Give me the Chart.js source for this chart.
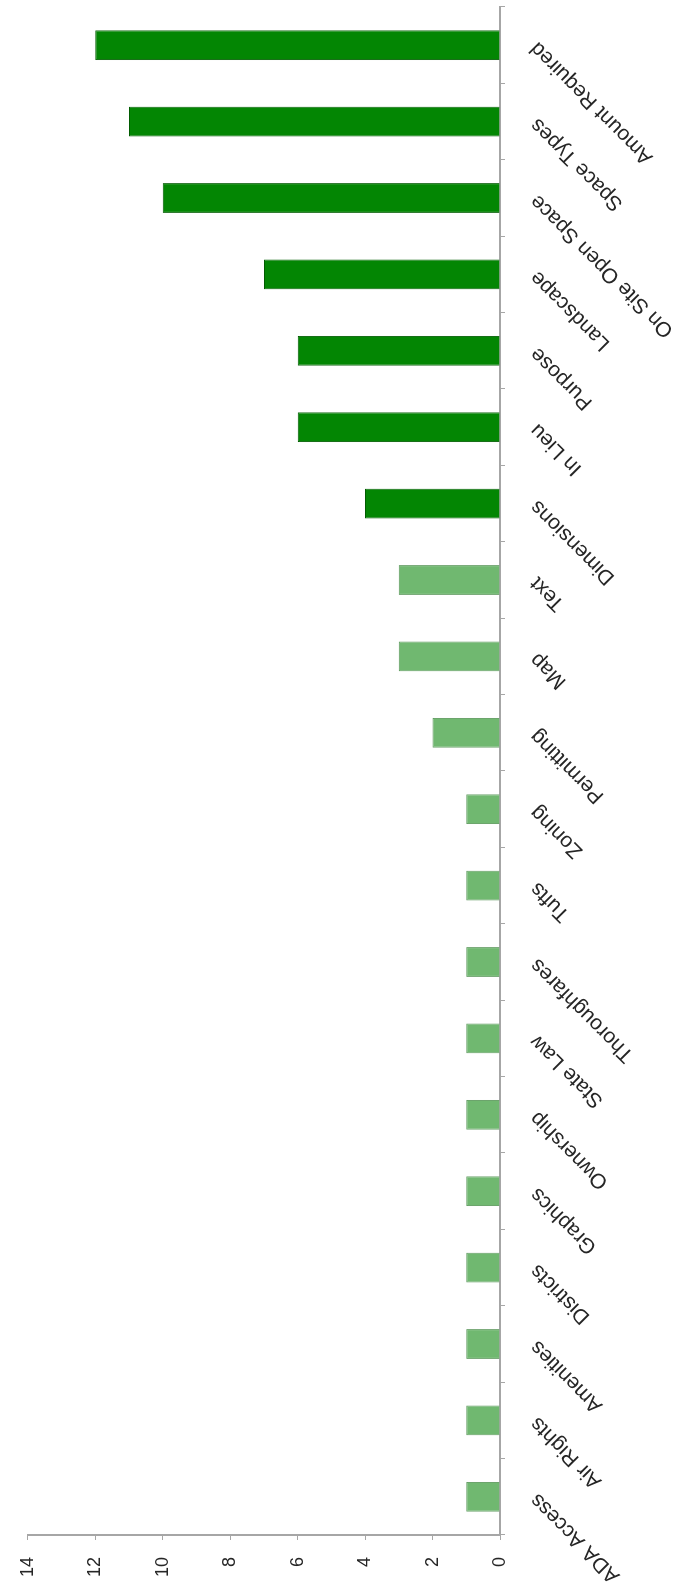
<!DOCTYPE html>
<html lang="en">
<head>
  <meta charset="UTF-8">
  <title>Topic Counts</title>
  <script src="https://cdn.jsdelivr.net/npm/chart.js"></script>
  <style>
    html, body {
      margin: 0;
      padding: 0;
      background: #ffffff;
      overflow: hidden;
    }
    /* the chart is drawn landscape, then turned a quarter turn counter-clockwise */
    #wrap {
      position: absolute;
      left: 0;
      top: 0;
      width: 1593px;
      height: 673px;
      transform-origin: 0 0;
      transform: translateY(1593px) rotate(-90deg);
      background: #ffffff;
    }
  </style>
</head>
<body>
  <div id="wrap">
    <canvas id="topicChart" width="1593" height="673"></canvas>
  </div>

  <script>
    // categories, left to right in the unrotated chart
    const categories = [
      'ADA Access', 'Air Rights', 'Amenities', 'Districts', 'Graphics',
      'Ownership', 'State Law', 'Thoroughfares', 'Tufts', 'Zoning',
      'Permitting', 'Map', 'Text', 'Dimensions', 'In Lieu',
      'Purpose', 'Landscape', 'On Site Open Space', 'Space Types', 'Amount Required'
    ];
    const counts = [1, 1, 1, 1, 1, 1, 1, 1, 1, 1, 2, 3, 3, 4, 6, 6, 7, 10, 11, 12];
    const valueTicks = [0, 2, 4, 6, 8, 10, 12, 14];

    const strongFrom = 4; // counts at or above this are drawn in the dark green
    const fills = counts.map(v => v >= strongFrom ? '#038603' : '#70b870');
    const edges = counts.map(v => v >= strongFrom ? '#015c01' : '#5c985c');

    new Chart(document.getElementById('topicChart'), {
      type: 'bar',
      data: {
        labels: categories,
        datasets: [{
          label: 'Count',
          data: counts,
          backgroundColor: fills,
          borderColor: edges,
          borderWidth: 1,
          barPercentage: 0.39,
          categoryPercentage: 1
        }]
      },
      options: {
        responsive: false,
        animation: false,
        layout: {
          padding: { top: 23, right: 7, left: 0, bottom: 0 }
        },
        plugins: {
          legend: { display: false },
          tooltip: { enabled: false }
        },
        scales: {
          x: {
            afterFit: (scale) => {
              scale.height = 173;
              // slanted labels may hang past the ends, that is fine
              scale.paddingLeft = 0;
              scale.paddingRight = 0;
            },
            grid: {
              offset: true,
              drawOnChartArea: false,
              drawTicks: true,
              tickLength: 5,
              color: '#a6a6a6'
            },
            border: { color: '#a6a6a6', width: 2 },
            ticks: {
              autoSkip: false,
              minRotation: 45,
              maxRotation: 45,
              padding: 20,
              color: '#262626',
              font: { family: 'Liberation Sans', size: 21 }
            }
          },
          y: {
            min: 0,
            max: 14,
            afterFit: (scale) => { scale.width = 58; },
            afterBuildTicks: (scale) => { scale.ticks = valueTicks.map(v => ({ value: v })); },
            grid: {
              drawOnChartArea: false,
              drawTicks: true,
              tickLength: 5,
              color: '#a6a6a6'
            },
            border: { color: '#a6a6a6', width: 2 },
            ticks: {
              padding: 17,
              color: '#262626',
              font: { family: 'Liberation Sans', size: 18 }
            }
          }
        }
      }
    });
  </script>
</body>
</html>
